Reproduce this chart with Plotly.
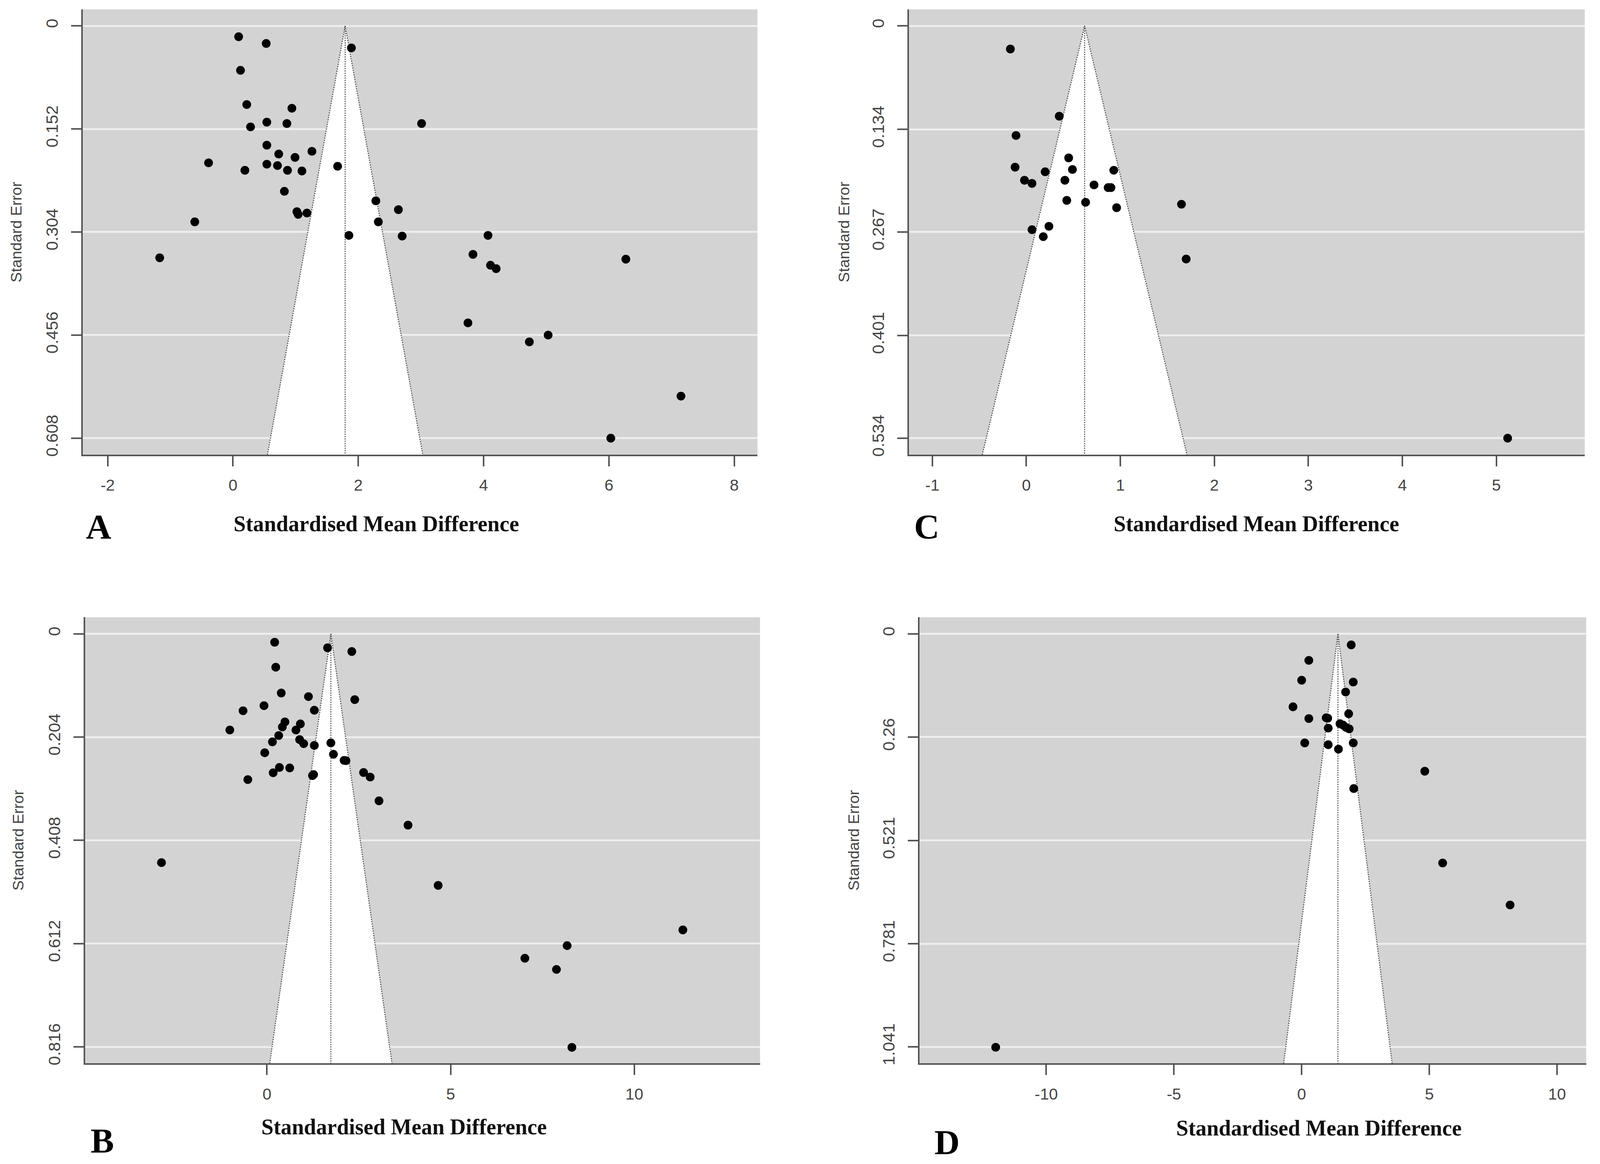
import plotly.graph_objects as go

# reference canvas in pixels; everything below is laid out in these units
W, H = 4402, 2980
K = 1 / 1.07  # css px per screenshot px

# panel A
A_SMD = [0.09, 0.53, 1.89, 0.12, 0.22, 0.94, 0.54, 0.86, 0.28, 3.01, 0.54, 1.26, 0.73, 0.99,
         -0.39, 0.54, 0.71, 1.67, 0.19, 0.87, 1.10, 0.82, 2.28, 2.64, 1.02, 1.04, 1.18, -0.61,
         2.32, 1.85, 2.70, 4.07, -1.17, 3.83, 4.11, 4.20, 6.27, 3.75, 5.03, 4.73, 7.15, 6.03]
A_SE = [0.016, 0.026, 0.0325, 0.0656, 0.116, 0.1215, 0.142, 0.144, 0.149, 0.144, 0.176, 0.185,
        0.189, 0.194, 0.202, 0.204, 0.206, 0.207, 0.213, 0.213, 0.214, 0.244, 0.258, 0.271,
        0.274, 0.278, 0.276, 0.289, 0.289, 0.309, 0.310, 0.309, 0.342, 0.337, 0.353, 0.358,
        0.344, 0.438, 0.456, 0.466, 0.546, 0.608]
A_CENTER = 1.79
A_XTICKS = [-2, 0, 2, 4, 6, 8]
A_YTICKS = ["0", "0.152", "0.304", "0.456", "0.608"]

# panel C
C_SMD = [-0.17, 0.35, -0.11, 0.45, -0.12, 0.49, 0.20, 0.93, -0.02, 0.06, 0.41, 0.72, 0.87,
         0.90, 0.43, 0.63, 0.96, 1.65, 0.06, 0.24, 0.18, 1.70, 5.12]
C_SE = [0.030, 0.117, 0.142, 0.171, 0.183, 0.186, 0.189, 0.187, 0.200, 0.204, 0.200, 0.206,
        0.2095, 0.2095, 0.226, 0.2285, 0.2355, 0.231, 0.264, 0.2596, 0.273, 0.302, 0.534]
C_CENTER = 0.62
C_XTICKS = [-1, 0, 1, 2, 3, 4, 5]
C_YTICKS = ["0", "0.134", "0.267", "0.401", "0.534"]

# panel B
B_SMD = [0.21, 1.65, 2.31, 0.24, 0.39, 1.13, 2.39, -0.08, -0.65, 1.29, 0.49, 0.91, 0.42, -1.01,
         0.79, 0.32, 0.15, 0.89, 1.00, 1.29, 1.74, -0.06, 1.81, 2.10, 2.15, 0.34, 0.62, 0.17,
         2.63, 1.24, 1.27, 2.81, -0.52, 3.05, 3.84, -2.87, 4.66, 11.32, 8.17, 7.02, 7.88, 8.30]
B_SE = [0.0167, 0.0277, 0.035, 0.066, 0.117, 0.124, 0.130, 0.142, 0.152, 0.151, 0.174, 0.178,
        0.184, 0.190, 0.190, 0.201, 0.2135, 0.209, 0.217, 0.2205, 0.2155, 0.235, 0.238, 0.250,
        0.2506, 0.264, 0.265, 0.2745, 0.274, 0.280, 0.278, 0.283, 0.288, 0.330, 0.378, 0.452,
        0.497, 0.585, 0.616, 0.641, 0.663, 0.817]
B_CENTER = 1.74
B_XTICKS = [0, 5, 10]
B_YTICKS = ["0", "0.204", "0.408", "0.612", "0.816"]

# panel D
D_SMD = [1.94, 0.28, 0.00, 2.02, 1.72, -0.34, 1.84, 0.28, 0.96, 1.02, 1.50, 1.62, 1.74, 1.86,
         1.04, 0.12, 1.04, 2.02, 1.44, 4.82, 2.04, 5.52, 8.16, -11.98]
D_SE = [0.0279, 0.0669, 0.117, 0.1216, 0.1467, 0.184, 0.2015, 0.2136, 0.2117, 0.2127, 0.2266,
        0.230, 0.236, 0.2396, 0.2377, 0.275, 0.2795, 0.275, 0.2906, 0.3464, 0.390, 0.5776,
        0.6834, 1.042]
D_CENTER = 1.42
D_XTICKS = [-10, -5, 0, 5, 10]
D_YTICKS = ["0", "0.26", "0.521", "0.781", "1.041"]

AXIS_COL = "#555555"
TEXT_COL = "#444444"


def s(v):
    return v * K


def px_x(p):
    return p / W


def px_y(p):
    return 1 - p / H


def add_panel(fig, n, smd, se, center, xticks, yticks, xrange, box, letter, ytitle_x, xtitle_pos,
              letter_pos):
    xa = "x" if n == 1 else f"x{n}"
    ya = "y" if n == 1 else f"y{n}"
    yvals = [float(t) for t in yticks]
    top = max(yvals)
    ybottom = top * 1.04
    ytop = -top * 0.04

    # white funnel region and its dotted edges
    half = 1.96 * ybottom
    fig.add_trace(go.Scatter(
        x=[center - half, center, center + half, center - half],
        y=[ybottom, 0, ybottom, ybottom],
        fill="toself", fillcolor="white", mode="lines", line=dict(width=0),
        hoverinfo="skip", showlegend=False, xaxis=xa, yaxis=ya))
    fig.add_trace(go.Scatter(
        x=[center - half, center, center + half],
        y=[ybottom, 0, ybottom],
        mode="lines", line=dict(color="#555555", width=s(3), dash="dot"),
        hoverinfo="skip", showlegend=False, xaxis=xa, yaxis=ya))
    fig.add_trace(go.Scatter(
        x=[center, center], y=[0, ybottom],
        mode="lines", line=dict(color="#555555", width=s(3), dash="dot"),
        hoverinfo="skip", showlegend=False, xaxis=xa, yaxis=ya))
    fig.add_trace(go.Scatter(
        x=smd, y=se, mode="markers",
        marker=dict(color="black", size=s(24), line=dict(width=0)),
        showlegend=False, xaxis=xa, yaxis=ya))

    x0, x1, y0, y1 = box
    key = "" if n == 1 else str(n)
    fig.layout["xaxis" + key] = dict(
        domain=[px_x(x0), px_x(x1)], range=xrange, anchor=ya,
        tickvals=xticks, ticktext=[str(t) for t in xticks],
        showgrid=False, zeroline=False, showline=True, linecolor=AXIS_COL, linewidth=s(4),
        ticks="outside", ticklen=s(28), tickwidth=s(4), tickcolor=AXIS_COL,
        tickfont=dict(family="Liberation Sans, Arial", size=s(44), color=TEXT_COL),
        ticklabelstandoff=round(s(14)),
    )
    fig.layout["yaxis" + key] = dict(
        domain=[px_y(y1), px_y(y0)], range=[ybottom, ytop], anchor=xa,
        tickvals=yvals, ticktext=yticks, tickangle=-90,
        showgrid=True, gridcolor="#EDEDED", gridwidth=s(5),
        zeroline=False, showline=True, linecolor=AXIS_COL, linewidth=s(4),
        ticks="outside", ticklen=s(28), tickwidth=s(4), tickcolor=AXIS_COL,
        tickfont=dict(family="Liberation Sans, Arial", size=s(46), color=TEXT_COL),
        ticklabelstandoff=round(s(18)),
    )

    fig.add_annotation(
        text="Standard Error", textangle=-90, xref="paper", yref="paper",
        x=px_x(ytitle_x), y=px_y((y0 + y1) / 2), xanchor="center", yanchor="middle",
        showarrow=False,
        font=dict(family="Liberation Sans, Arial", size=s(42), color=TEXT_COL))
    fig.add_annotation(
        text="<b>Standardised Mean Difference</b>", xref="paper", yref="paper",
        x=px_x(xtitle_pos[0]), y=px_y(xtitle_pos[1]), xanchor="center", yanchor="middle",
        showarrow=False,
        font=dict(family="Liberation Serif, Times New Roman", size=s(60), color="#111111"))
    fig.add_annotation(
        text=f"<b>{letter}</b>", xref="paper", yref="paper",
        x=px_x(letter_pos[0]), y=px_y(letter_pos[1]), xanchor="center", yanchor="middle",
        showarrow=False,
        font=dict(family="Liberation Serif, Times New Roman", size=s(96), color="black"))


fig = go.Figure()
add_panel(fig, 1, A_SMD, A_SE, A_CENTER, A_XTICKS, A_YTICKS, [-2.396, 8.371],
          (228, 2084, 24, 1166), "A", 44, (1036, 1343), (271, 1350))
add_panel(fig, 2, C_SMD, C_SE, C_CENTER, C_XTICKS, C_YTICKS, [-1.248, 5.94],
          (2501, 4360, 24, 1166), "C", 2321, (3457, 1343), (2550, 1350))
add_panel(fig, 3, B_SMD, B_SE, B_CENTER, B_XTICKS, B_YTICKS, [-4.95, 13.42],
          (234, 2091, 1583, 2727), "B", 50, (1112, 2890), (282, 2924))
add_panel(fig, 4, D_SMD, D_SE, D_CENTER, D_XTICKS, D_YTICKS, [-14.96, 11.14],
          (2530, 4364, 1583, 2727), "D", 2349, (3629, 2893), (2606, 2928))

fig.update_layout(
    width=round(W * K), height=round(H * K), autosize=False,
    margin=dict(l=0, r=0, t=0, b=0),
    plot_bgcolor="#D3D3D3",
    paper_bgcolor="white",
    showlegend=False,
)

# fit the figure exactly to the browser window
fit = (
    "document.body.style.margin='0';"
    "document.documentElement.style.overflow='hidden';"
    "Plotly.relayout('{plot_id}', {width: window.innerWidth, height: window.innerHeight});"
)
fig.write_html("out.html", post_script=fit, config={"displayModeBar": False})
